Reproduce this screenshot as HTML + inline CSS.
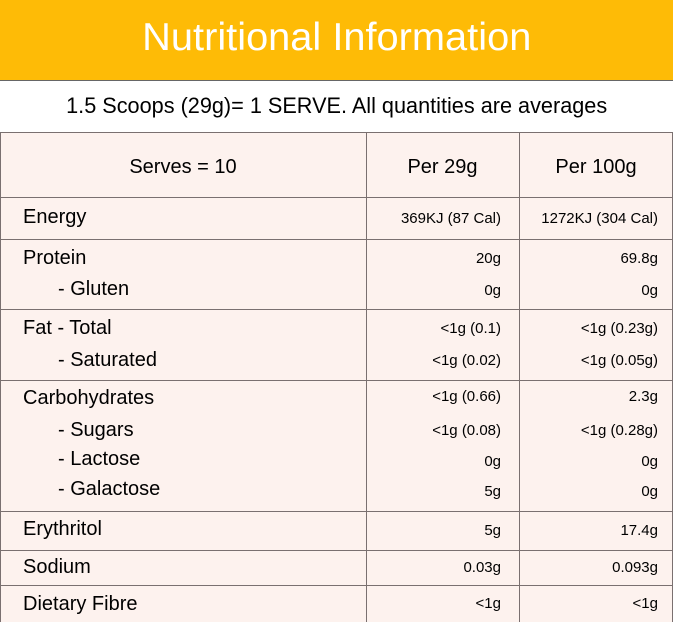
<!DOCTYPE html>
<html><head><meta charset="utf-8"><style>
*{margin:0;padding:0;box-sizing:border-box}
body{width:673px;height:622px;position:relative;overflow:hidden;background:#fdf2ee;font-family:"Liberation Sans",sans-serif;color:#000}
.ab{position:absolute;white-space:nowrap}
.hl{position:absolute;left:0;width:673px;height:1px;background:#7a7070}
.vl{position:absolute;width:1px;background:#7a7070}
.lab{position:absolute;left:23px;font-size:20px;line-height:20px;white-space:nowrap}
.sub{left:58px}
.v1,.v2{position:absolute;font-size:15px;line-height:16px;text-align:right;white-space:nowrap;margin-top:3px}
.v1{right:172px}
.v2{right:15px}
</style></head><body>
<div class="ab" style="left:0;top:0;width:673px;height:80px;background:#febb06"></div>
<div class="hl" style="top:80px;background:#666"></div>
<div class="ab" style="left:0;top:81px;width:673px;height:51px;background:#fff"></div>
<div class="ab" style="left:0;width:673px;top:17px;text-align:center;color:#fff;font-size:39px;line-height:42px"><span style="display:inline-block;transform:scaleX(1.02)">Nutritional Information</span></div>
<div class="ab" style="left:0;width:673px;top:93px;text-align:center;font-size:22px;line-height:26px"><span style="display:inline-block;transform:scaleX(0.985)">1.5 Scoops (29g)= 1 SERVE. All quantities are averages</span></div>
<div class="hl" style="top:132px"></div>
<div class="hl" style="top:197px"></div>
<div class="hl" style="top:239px"></div>
<div class="hl" style="top:309px"></div>
<div class="hl" style="top:380px"></div>
<div class="hl" style="top:511px"></div>
<div class="hl" style="top:550px"></div>
<div class="hl" style="top:585px"></div>
<div class="vl" style="left:0;top:132px;height:490px"></div>
<div class="vl" style="left:672px;top:132px;height:490px"></div>
<div class="vl" style="left:366px;top:132px;height:490px"></div>
<div class="vl" style="left:519px;top:132px;height:490px"></div>
<div class="ab" style="left:0;width:366px;top:156px;text-align:center;font-size:20px">Serves = 10</div>
<div class="ab" style="left:366px;width:153px;top:156px;text-align:center;font-size:20px">Per 29g</div>
<div class="ab" style="left:519px;width:154px;top:156px;text-align:center;font-size:20px">Per 100g</div>

<div class="lab" style="top:207px">Energy</div>
<div class="v1" style="top:208px">369KJ (87 Cal)</div><div class="v2" style="top:208px">1272KJ (304 Cal)</div>

<div class="lab" style="top:248px">Protein</div>
<div class="v1" style="top:248px">20g</div><div class="v2" style="top:248px">69.8g</div>
<div class="lab sub" style="top:279px">- Gluten</div>
<div class="v1" style="top:280px">0g</div><div class="v2" style="top:280px">0g</div>

<div class="lab" style="top:318px">Fat - Total</div>
<div class="v1" style="top:318px">&lt;1g (0.1)</div><div class="v2" style="top:318px">&lt;1g (0.23g)</div>
<div class="lab sub" style="top:350px">- Saturated</div>
<div class="v1" style="top:350px">&lt;1g (0.02)</div><div class="v2" style="top:350px">&lt;1g (0.05g)</div>

<div class="lab" style="top:388px">Carbohydrates</div>
<div class="v1" style="top:386px">&lt;1g (0.66)</div><div class="v2" style="top:386px">2.3g</div>
<div class="lab sub" style="top:420px">- Sugars</div>
<div class="v1" style="top:420px">&lt;1g (0.08)</div><div class="v2" style="top:420px">&lt;1g (0.28g)</div>
<div class="lab sub" style="top:449px">- Lactose</div>
<div class="v1" style="top:451px">0g</div><div class="v2" style="top:451px">0g</div>
<div class="lab sub" style="top:479px">- Galactose</div>
<div class="v1" style="top:481px">5g</div><div class="v2" style="top:481px">0g</div>

<div class="lab" style="top:519px">Erythritol</div>
<div class="v1" style="top:520px">5g</div><div class="v2" style="top:520px">17.4g</div>
<div class="lab" style="top:557px">Sodium</div>
<div class="v1" style="top:557px">0.03g</div><div class="v2" style="top:557px">0.093g</div>
<div class="lab" style="top:594px">Dietary Fibre</div>
<div class="v1" style="top:593px">&lt;1g</div><div class="v2" style="top:593px">&lt;1g</div>
</body></html>
